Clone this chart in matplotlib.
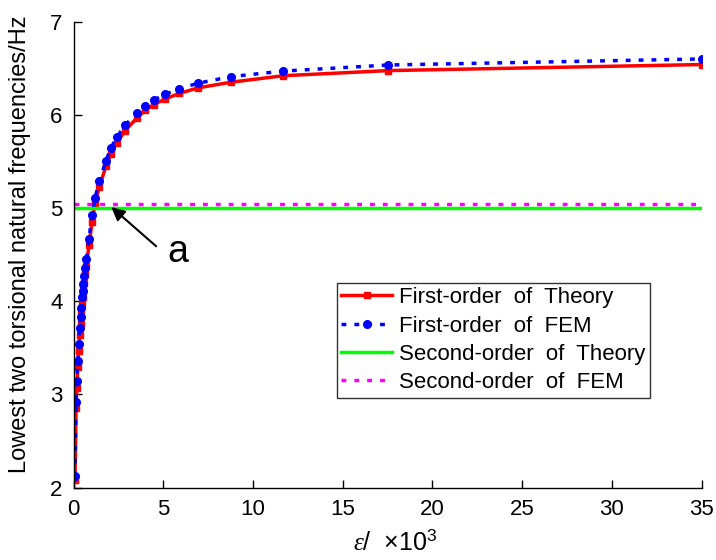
import numpy as np
import matplotlib
matplotlib.use('Agg')
from matplotlib import pyplot as plt

# datos
eps = [0.08, 0.14, 0.18, 0.24, 0.29, 0.34, 0.39, 0.43, 0.47, 0.51, 0.55, 0.60,
       0.65, 0.72, 0.86, 1.03, 1.20, 1.44, 1.81, 2.07, 2.41, 2.87, 3.55, 3.98,
       4.48, 5.10, 5.89, 6.95, 8.76, 11.69, 17.54, 35.0]
f1_fem = [2.12, 2.92, 3.14, 3.36, 3.54, 3.71, 3.83, 3.93, 4.04, 4.11, 4.19, 4.27,
          4.36, 4.45, 4.67, 4.92, 5.11, 5.29, 5.51, 5.64, 5.76, 5.89, 6.02, 6.10,
          6.16, 6.22, 6.28, 6.34, 6.41, 6.47, 6.535, 6.60]
f1_theory = [2.08, 2.85, 3.07, 3.29, 3.47, 3.64, 3.76, 3.86, 3.97, 4.04, 4.12, 4.20,
             4.29, 4.38, 4.60, 4.85, 5.05, 5.23, 5.45, 5.58, 5.70, 5.83, 5.97, 6.05,
             6.11, 6.17, 6.23, 6.29, 6.35, 6.42, 6.475, 6.54]
f2_theory = 5.0
f2_fem = 5.04

xticks = [0, 5, 10, 15, 20, 25, 30, 35]
yticks = [2, 3, 4, 5, 6, 7]

plt.rcParams['font.family'] = ['Liberation Sans', 'DejaVu Sans']
plt.rcParams['mathtext.fontset'] = 'custom'
plt.rcParams['mathtext.rm'] = 'Liberation Sans'
plt.rcParams['mathtext.it'] = 'Liberation Serif:italic'

fig = plt.figure(figsize=(7.16, 5.6), dpi=100)
ax = fig.add_axes([0.1027, 0.1293, 0.8773, 0.832])

ax.plot(eps, f1_theory, color='red', lw=2.5, marker='s', ms=4.5,
        label='First-order  of  Theory')
ax.plot(eps, f1_fem, color='blue', lw=2.5, linestyle=(0, (1.4, 2.3)),
        dash_capstyle='butt', marker='o', ms=5.5, label='First-order  of  FEM')
ax.plot([0, 35], [f2_theory, f2_theory], color='#00ff00', lw=2.5,
        label='Second-order  of  Theory')
ax.plot([0, 35], [f2_fem, f2_fem], color='magenta', lw=2.5,
        linestyle=(0, (1.4, 2.3)), dash_capstyle='butt',
        label='Second-order  of  FEM')

ax.set_xlim(0, 35)
ax.set_ylim(2, 7)
ax.set_xticks(xticks)
ax.set_yticks(yticks)
ax.tick_params(direction='in', length=6, width=1, labelsize=16)
ax.tick_params(axis='x', pad=8)
ax.tick_params(axis='y', pad=8)
ax.spines['top'].set_visible(False)
ax.spines['right'].set_visible(False)
for s in ['left', 'bottom']:
    ax.spines[s].set_linewidth(1)

ax.set_ylabel('Lowest two torsional natural frequencies/Hz', fontsize=17)
ax.yaxis.set_label_coords(-0.068, 0.522)
ax.set_xlabel(r'$\varepsilon$/  ×10$^{3}$', fontsize=18)
ax.xaxis.set_label_coords(0.512, -0.09)

# flecha y etiqueta "a"
ax.annotate('', xy=(1.99, 5.03), xytext=(4.72, 4.57),
            arrowprops=dict(arrowstyle='-|>', color='k', lw=1.5, mutation_scale=20))
ax.text(5.82, 4.53, 'a', fontsize=27, ha='center', va='center')

leg = ax.legend(loc='lower left', bbox_to_anchor=(0.419, 0.193), borderaxespad=0,
                fontsize=16, frameon=True, fancybox=False, edgecolor='black',
                handlelength=2.3, handletextpad=0.3, labelspacing=0.33,
                borderpad=0.2)
leg.get_frame().set_linewidth(1)

plt.savefig('out.png', dpi=100)
